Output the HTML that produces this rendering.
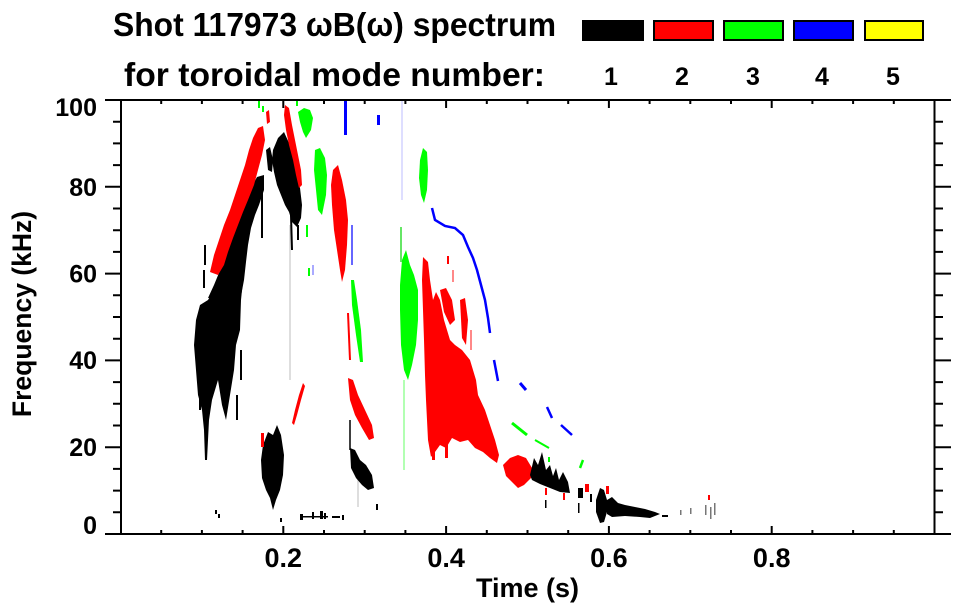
<!DOCTYPE html>
<html>
<head>
<meta charset="utf-8">
<style>
  html, body { margin:0; padding:0; background:#fff; }
  svg { display:block; }
  text { font-family: "Liberation Sans", "DejaVu Sans", sans-serif; font-weight: bold; fill:#000; }
</style>
</head>
<body>
<svg width="963" height="615" viewBox="0 0 963 615" xmlns="http://www.w3.org/2000/svg">
  <rect width="963" height="615" fill="#fff"/>

  <!-- Title -->
  <text x="113" y="36" font-size="33" textLength="443" lengthAdjust="spacingAndGlyphs">Shot 117973 ωB(ω) spectrum</text>
  <text x="124" y="86" font-size="33" textLength="421" lengthAdjust="spacingAndGlyphs">for toroidal mode number:</text>

  <!-- Legend -->
  <rect x="582" y="20" width="62" height="21" fill="#000"/>
  <rect x="654" y="21" width="59" height="19" fill="#f00" stroke="#000" stroke-width="2"/>
  <rect x="724" y="21" width="59" height="19" fill="#0f0" stroke="#000" stroke-width="2"/>
  <rect x="794" y="21" width="59" height="19" fill="#00f" stroke="#000" stroke-width="2"/>
  <rect x="865" y="21" width="58" height="19" fill="#ff0" stroke="#000" stroke-width="2"/>
  <g font-size="25" text-anchor="middle">
    <text x="611" y="85">1</text>
    <text x="682" y="85">2</text>
    <text x="753" y="85">3</text>
    <text x="822" y="85">4</text>
    <text x="893" y="85">5</text>
  </g>

  <!-- ===== DATA ===== -->
  <g>
    <!-- faint gray lines -->
    <line x1="290" y1="225" x2="290" y2="380" stroke="#c8c8c8" stroke-width="1.2"/>
    <line x1="358" y1="467" x2="358" y2="507" stroke="#c8c8c8" stroke-width="1.2"/>
    <line x1="402" y1="100" x2="402" y2="200" stroke="#c8c8ff" stroke-width="1.2"/>
    <line x1="404" y1="380" x2="404" y2="470" stroke="#9f9" stroke-width="1.5"/>
    <line x1="401" y1="227" x2="401" y2="262" stroke="#3d3" stroke-width="1.5"/>

    <!-- Black blob A -->
    <polygon fill="#000" points="232,265 240,255 244,270 241,300 240,330 236,345 234,370 230,395 226,420 222,405 218,380 212,400 209,420 207,460 205,460 204,430 202,410 198,395 196,370 194,345 196,320 200,305 208,300 214,290 220,285 226,275"/>
    <g fill="#000">
      <rect x="236" y="395" width="2" height="25"/>
      <rect x="240" y="350" width="2" height="30"/>
      <rect x="199" y="395" width="2" height="15"/>
      <rect x="203" y="270" width="2" height="18"/>
    </g>
    <!-- Black band under red arc -->
    <polygon fill="#000" points="208,298 214,285 221,268 227,250 233,230 239,215 245,200 251,188 257,177 264,175 264,190 259,205 255,215 251,228 248,245 246,262 244,280 241,296"/>
    <polygon fill="#000" points="266,150 270,147 273,160 272,172 268,170"/>
    <line x1="262" y1="178" x2="262" y2="238" stroke="#000" stroke-width="2"/>
    <line x1="205" y1="245" x2="205" y2="265" stroke="#000" stroke-width="2"/>
    <!-- Red arc -->
    <polygon fill="#f00" points="210,272 214,255 219,240 224,225 230,210 235,195 240,180 245,165 249,150 253,138 258,128 263,126 265,140 262,155 258,170 254,185 248,200 243,212 238,225 233,238 228,252 224,265 218,275"/>
    <polygon fill="#f00" points="266,112 269,110 270,122 267,124"/>

    <!-- Black blob B -->
    <polygon fill="#000" points="273,150 278,138 284,132 289,143 293,158 297,172 300,188 302,205 301,218 297,227 292,222 289,212 285,205 281,195 277,185 274,172 272,160"/>
    <line x1="291" y1="215" x2="292" y2="250" stroke="#000" stroke-width="2"/>
    <rect x="297" y="225" width="2" height="15" fill="#000"/>
    <!-- Red around B -->
    <polygon fill="#f00" points="285,105 289,108 292,125 295,140 298,155 301,170 302,185 299,188 296,175 293,160 289,145 286,130 284,115"/>

    <!-- Greens top -->
    <polygon fill="#0f0" points="298,112 304,108 310,110 313,118 311,130 306,138 303,132 300,122"/>
    <polygon fill="#0f0" points="315,150 320,148 325,158 327,175 326,195 322,215 318,210 316,190 314,170"/>
    <rect x="258" y="100" width="2" height="8" fill="#0f0"/>
    <rect x="262" y="106" width="2" height="6" fill="#0f0"/>
    <rect x="296" y="100" width="2" height="6" fill="#0f0"/>
    <rect x="306" y="225" width="2" height="12" fill="#0f0"/>
    <rect x="308" y="268" width="2" height="8" fill="#0f0"/>

    <!-- Red near 0.27 -->
    <polygon fill="#f00" points="333,170 338,165 342,180 346,200 348,220 347,245 345,270 342,282 340,270 337,250 334,230 332,205 331,185"/>
    <line x1="348" y1="313" x2="350" y2="360" stroke="#f00" stroke-width="2"/>
    <polygon fill="#f00" points="348,378 353,380 358,395 365,410 372,425 374,438 369,440 362,428 355,415 350,400"/>
    <!-- Green diagonal -->
    <polygon fill="#0f0" points="351,280 354,280 357,300 361,330 363,362 360,362 356,335 352,305"/>
    <!-- Black diagonal -->
    <polygon fill="#000" points="350,448 355,450 360,460 366,465 372,475 374,488 368,490 362,485 356,478 351,468"/>
    <line x1="350" y1="420" x2="350" y2="450" stroke="#000" stroke-width="1.5"/>

    <!-- Blue bits top -->
    <rect x="344" y="100" width="3" height="35" fill="#00f"/>
    <rect x="351" y="225" width="2" height="40" fill="#66f"/>
    <rect x="377" y="115" width="3" height="10" fill="#00f"/>
    <rect x="312" y="265" width="2" height="10" fill="#aaf"/>

    <!-- Black blob C -->
    <polygon fill="#000" points="263,445 268,432 273,435 277,425 281,435 284,455 283,475 280,490 276,500 273,510 270,498 266,490 262,478 261,460"/>
    <!-- Red small line -->
    <polygon fill="#f00" points="292,423 295,410 299,395 303,383 305,386 301,400 297,415 294,425"/>
    <rect x="261" y="433" width="3" height="14" fill="#f00"/>

    <!-- Bottom black bits -->
    <g fill="#000">
      <rect x="215" y="510" width="2" height="4"/>
      <rect x="218" y="514" width="2" height="4"/>
      <rect x="280" y="518" width="2" height="4"/>
      <rect x="300" y="514" width="3" height="6"/>
      <rect x="303" y="516" width="25" height="1.5"/>
      <rect x="312" y="512" width="2" height="7"/>
      <rect x="320" y="511" width="3" height="8"/>
      <rect x="324" y="513" width="2" height="6"/>
      <rect x="332" y="516" width="8" height="2"/>
      <rect x="342" y="515" width="2" height="5"/>
      <rect x="376" y="504" width="2" height="6"/>
    </g>

    <!-- Green band near 0.35 -->
    <polygon fill="#0f0" points="402,260 406,250 410,265 414,275 418,290 418,320 416,345 412,365 408,380 404,370 401,345 400,310 400,285"/>
    <!-- Green upper -->
    <polygon fill="#0f0" points="420,160 423,148 427,152 428,170 427,190 424,203 421,195 419,178"/>

    <!-- Blue curve -->
    <polyline fill="none" stroke="#00f" stroke-width="2.5" points="432,208 435,220 445,226 455,228 463,235 468,247 473,258 477,270 481,285 485,300 488,318 490,333"/>
    <line x1="494" y1="360" x2="498" y2="381" stroke="#00f" stroke-width="2.5"/>
    <line x1="520" y1="383" x2="526" y2="390" stroke="#00f" stroke-width="3"/>
    <line x1="547" y1="407" x2="552" y2="418" stroke="#00f" stroke-width="2.5"/>
    <line x1="561" y1="425" x2="572" y2="435" stroke="#00f" stroke-width="2.5"/>

    <!-- Red big blob -->
    <polygon fill="#f00" points="423,257 428,262 430,280 433,300 436,292 440,300 444,320 447,330 450,340 455,345 462,350 470,360 476,380 478,395 485,410 490,425 495,440 499,455 497,463 490,458 483,452 475,448 468,440 460,442 452,438 446,448 440,445 435,452 431,457 428,440 427,420 426,400 425,375 424,340 423,310 422,280"/>
    <polygon fill="#f00" points="440,290 446,288 452,300 455,320 450,325 444,312"/>
    <polygon fill="#f00" points="460,300 465,298 468,320 466,345 462,338"/>
    <rect x="447" y="256" width="2" height="8" fill="#f00"/>
    <rect x="445" y="440" width="3" height="18" fill="#f00"/>
    <rect x="432" y="440" width="3" height="20" fill="#f00"/>
    <rect x="452" y="270" width="2" height="12" fill="#f88"/>
    <rect x="470" y="330" width="2" height="20" fill="#f88"/>
    <!-- Red blob 2 -->
    <polygon fill="#f00" points="503,465 510,458 518,455 526,458 532,468 531,478 524,485 518,488 512,482 506,476"/>
    <g fill="#f00">
      <rect x="545" y="488" width="2" height="7"/>
      <rect x="563" y="493" width="2" height="7"/>
      <rect x="585" y="484" width="4" height="8"/>
      <rect x="606" y="486" width="3" height="8"/>
      <rect x="708" y="495" width="2" height="5"/>
    </g>

    <!-- Black tail -->
    <polygon fill="#000" points="530,475 534,458 538,465 542,452 546,470 550,465 553,476 556,468 559,480 563,472 568,482 570,493 560,492 550,488 540,484 532,480"/>
    <polygon fill="#000" points="596,500 600,488 604,490 607,500 607,512 604,522 600,523 596,512"/>
    <polygon fill="#000" points="607,500 612,497 618,503 625,505 635,507 645,509 655,512 660,514 650,518 640,517 625,516 612,517 607,514"/>
    <g fill="#000">
      <rect x="578" y="488" width="5" height="10"/>
      <rect x="590" y="494" width="2" height="8"/>
      <rect x="545" y="500" width="1.5" height="8"/>
      <rect x="578" y="503" width="1.5" height="10"/>
      <rect x="662" y="515" width="6" height="2"/>
    </g>
    <g fill="#777">
      <rect x="680" y="510" width="1.5" height="5"/>
      <rect x="690" y="508" width="1.5" height="6"/>
      <rect x="705" y="505" width="1.5" height="10"/>
      <rect x="710" y="507" width="1.5" height="12"/>
      <rect x="714" y="503" width="1.5" height="12"/>
    </g>

    <!-- Green dashes -->
    <line x1="512" y1="423" x2="527" y2="435" stroke="#0f0" stroke-width="3"/>
    <line x1="535" y1="440" x2="549" y2="448" stroke="#0f0" stroke-width="2"/>
    <rect x="548" y="457" width="2" height="5" fill="#0f0"/>
    <line x1="580" y1="468" x2="583" y2="460" stroke="#0f0" stroke-width="2.5"/>
  </g>

  <!-- ===== AXES ===== -->
  <g stroke="#000" stroke-width="2" fill="none">
    <line x1="105" y1="100" x2="951" y2="100"/>
    <line x1="105" y1="534" x2="951" y2="534"/>
    <line x1="121" y1="99" x2="121" y2="535"/>
    <line x1="934.5" y1="99" x2="934.5" y2="535"/>
    <!-- Y ticks -->
    <path d="
      M113 512.3H121 M113 490.6H121 M113 468.9H121 M105 447.2H121
      M113 425.5H121 M113 403.8H121 M113 382.1H121 M105 360.4H121
      M113 338.7H121 M113 317H121 M113 295.3H121 M105 273.6H121
      M113 251.9H121 M113 230.2H121 M113 208.5H121 M105 186.8H121
      M113 165.1H121 M113 143.4H121 M113 121.7H121
      M934.5 512.3H943 M934.5 490.6H943 M934.5 468.9H943 M934.5 447.2H951
      M934.5 425.5H943 M934.5 403.8H943 M934.5 382.1H943 M934.5 360.4H951
      M934.5 338.7H943 M934.5 317H943 M934.5 295.3H943 M934.5 273.6H951
      M934.5 251.9H943 M934.5 230.2H943 M934.5 208.5H943 M934.5 186.8H951
      M934.5 165.1H943 M934.5 143.4H943 M934.5 121.7H943"/>
    <!-- X ticks -->
    <path d="
      M161.2 534V530 M201.9 534V530 M242.6 534V530 M283.3 534V526
      M324 534V530 M364.7 534V530 M405.4 534V530 M446.1 534V526
      M486.8 534V530 M527.5 534V530 M568.2 534V530 M608.9 534V526
      M649.6 534V530 M690.3 534V530 M731 534V530 M771.7 534V526
      M812.4 534V530 M853.1 534V530 M893.8 534V530
      M161.2 100V104 M201.9 100V104 M242.6 100V104 M283.3 100V108
      M324 100V104 M364.7 100V104 M405.4 100V104 M446.1 100V108
      M486.8 100V104 M527.5 100V104 M568.2 100V104 M608.9 100V108
      M649.6 100V104 M690.3 100V104 M731 100V104 M771.7 100V108
      M812.4 100V104 M853.1 100V104 M893.8 100V104"/>
  </g>

  <!-- Tick labels -->
  <g font-size="25" text-anchor="end">
    <text x="97" y="116">100</text>
    <text x="97" y="196">80</text>
    <text x="97" y="282.5">60</text>
    <text x="97" y="369">40</text>
    <text x="97" y="456">20</text>
    <text x="97" y="534">0</text>
  </g>
  <g font-size="27" text-anchor="middle">
    <text x="283.3" y="567">0.2</text>
    <text x="446.1" y="567">0.4</text>
    <text x="608.9" y="567">0.6</text>
    <text x="771.7" y="567">0.8</text>
  </g>

  <!-- Axis titles -->
  <text x="527.5" y="597" font-size="27" text-anchor="middle">Time (s)</text>
  <text transform="translate(31,314) rotate(-90)" font-size="26.5" text-anchor="middle">Frequency (kHz)</text>
</svg>
</body>
</html>
